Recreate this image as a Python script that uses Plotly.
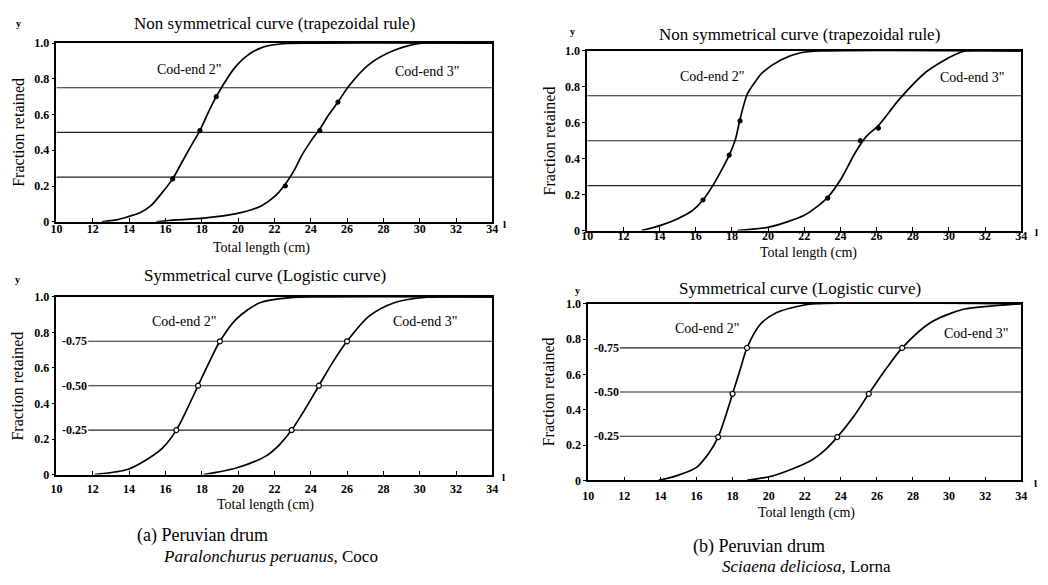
import plotly.graph_objects as go

W, H = 1048, 585
FONT = "Liberation Serif"

# ---------------- data ----------------
x_ticks = [10, 12, 14, 16, 18, 20, 22, 24, 26, 28, 30, 32, 34]
y_ticks = [0, 0.2, 0.4, 0.6, 0.8, 1.0]
y_ticktext = ["0", "0.2", "0.4", "0.6", "0.8", "1.0"]
ref_levels = [0.25, 0.5, 0.75]
ref_labels = ["0.25", "0.50", "0.75"]

# (a) non symmetrical
a_ns_c2_x = [12.5, 13.3, 14.0, 14.6, 15.2, 15.8, 16.4, 17.0, 17.5, 17.9, 18.4, 18.8, 19.2, 19.8, 20.5, 21.3, 22.3, 24.0, 34.0]
a_ns_c2_y = [0.0, 0.01, 0.03, 0.05, 0.09, 0.16, 0.24, 0.35, 0.44, 0.51, 0.62, 0.70, 0.77, 0.86, 0.93, 0.975, 0.995, 1.0, 1.0]
a_ns_c2_px = [16.4, 17.9, 18.8]
a_ns_c2_py = [0.24, 0.51, 0.70]
a_ns_c3_x = [15.5, 16.6, 18.1, 19.9, 21.3, 22.0, 22.6, 23.1, 23.5, 24.0, 24.5, 25.0, 25.5, 26.1, 27.2, 28.6, 30.1, 34.0]
a_ns_c3_y = [0.0, 0.01, 0.02, 0.045, 0.09, 0.14, 0.21, 0.29, 0.37, 0.45, 0.52, 0.60, 0.67, 0.76, 0.88, 0.96, 1.0, 1.0]
a_ns_c3_px = [22.6, 24.5, 25.5]
a_ns_c3_py = [0.20, 0.51, 0.67]

# (b) non symmetrical
b_ns_c2_x = [13.0, 14.1, 15.0, 15.8, 16.4, 17.0, 17.5, 17.85, 18.2, 18.45, 18.85, 19.3, 19.7, 20.7, 21.8, 23.0, 34.0]
b_ns_c2_y = [0.0, 0.03, 0.066, 0.11, 0.17, 0.26, 0.35, 0.42, 0.51, 0.62, 0.76, 0.83, 0.88, 0.95, 0.99, 1.0, 1.0]
b_ns_c2_px = [16.4, 17.85, 18.45]
b_ns_c2_py = [0.17, 0.42, 0.61]
b_ns_c3_x = [18.3, 20.1, 22.0, 22.8, 23.3, 24.05, 24.8, 25.4, 26.15, 27.25, 28.7, 29.6, 30.35, 30.9, 34.0]
b_ns_c3_y = [0.0, 0.02, 0.085, 0.14, 0.185, 0.29, 0.43, 0.52, 0.59, 0.73, 0.88, 0.94, 0.98, 1.0, 1.0]
b_ns_c3_px = [23.3, 25.1, 26.1]
b_ns_c3_py = [0.18, 0.50, 0.57]

# (a) logistic
a_lg_c2_x = [12.1, 13.95, 15.0, 15.85, 16.6, 17.2, 17.8, 18.4, 19.0, 19.9, 21.2, 22.8, 24.5, 34.0]
a_lg_c2_y = [0.0, 0.03, 0.086, 0.15, 0.25, 0.37, 0.50, 0.63, 0.75, 0.875, 0.967, 0.995, 1.0, 1.0]
a_lg_c2_px = [16.6, 17.8, 19.0]
a_lg_c3_x = [18.1, 19.9, 21.55, 22.3, 22.95, 23.7, 24.45, 25.2, 26.0, 27.2, 28.6, 30.4, 34.0]
a_lg_c3_y = [0.0, 0.037, 0.105, 0.17, 0.25, 0.37, 0.50, 0.63, 0.75, 0.89, 0.967, 0.998, 1.0]
a_lg_c3_px = [22.95, 24.45, 26.0]

# (b) logistic
b_lg_c2_x = [13.9, 15.0, 16.0, 16.7, 17.2, 17.6, 18.0, 18.4, 18.8, 19.55, 20.45, 21.7, 22.6, 34.0]
b_lg_c2_y = [0.0, 0.03, 0.074, 0.157, 0.245, 0.36, 0.49, 0.62, 0.75, 0.885, 0.95, 0.987, 1.0, 1.0]
b_lg_c2_px = [17.2, 18.0, 18.8]
b_lg_c3_x = [18.8, 20.3, 22.3, 23.1, 23.8, 24.7, 25.55, 26.5, 27.4, 29.0, 30.85, 32.7, 34.0]
b_lg_c3_y = [0.0, 0.028, 0.11, 0.17, 0.245, 0.36, 0.49, 0.63, 0.75, 0.895, 0.97, 0.99, 1.0]
b_lg_c3_px = [23.8, 25.55, 27.4]
b_lg_py = [0.245, 0.49, 0.75]

# ---------------- layout helpers ----------------
def fx(px):
    return px / W

def fy(py):
    return 1 - py / H

# panel boxes in pixels: (left, right, top, bottom, tick-label standoff)
boxes = {
    1: (51, 492, 37, 220, -5),
    2: (588, 1027, 45, 229, -7),
    3: (51, 492, 297, 479, 2),
    4: (589, 1027, 304, 485, 3),
}

fig = go.Figure()
line_style = dict(color="black", width=1.7, shape="spline", smoothing=0.8)

def add_curve(n, xs, ys):
    fig.add_trace(go.Scatter(x=xs, y=ys, mode="lines", line=line_style,
                             xaxis=f"x{n}", yaxis=f"y{n}", showlegend=False, hoverinfo="skip"))

def add_pts(n, xs, ys, open_=False):
    fig.add_trace(go.Scatter(x=xs, y=ys, mode="markers",
                             marker=dict(size=4 if not open_ else 5,
                                         color="white" if open_ else "black",
                                         symbol="circle",
                                         line=dict(color="black", width=1.2)),
                             xaxis=f"x{n}", yaxis=f"y{n}", showlegend=False, hoverinfo="skip"))

add_curve(1, a_ns_c2_x, a_ns_c2_y); add_pts(1, a_ns_c2_px, a_ns_c2_py)
add_curve(1, a_ns_c3_x, a_ns_c3_y); add_pts(1, a_ns_c3_px, a_ns_c3_py)
add_curve(2, b_ns_c2_x, b_ns_c2_y); add_pts(2, b_ns_c2_px, b_ns_c2_py)
add_curve(2, b_ns_c3_x, b_ns_c3_y); add_pts(2, b_ns_c3_px, b_ns_c3_py)
add_curve(3, a_lg_c2_x, a_lg_c2_y); add_pts(3, a_lg_c2_px, ref_levels, True)
add_curve(3, a_lg_c3_x, a_lg_c3_y); add_pts(3, a_lg_c3_px, ref_levels, True)
add_curve(4, b_lg_c2_x, b_lg_c2_y); add_pts(4, b_lg_c2_px, b_lg_py, True)
add_curve(4, b_lg_c3_x, b_lg_c3_y); add_pts(4, b_lg_c3_px, b_lg_py, True)

layout = dict(
    width=W, height=H, margin=dict(l=0, r=0, t=0, b=0),
    paper_bgcolor="white", plot_bgcolor="white",
    font=dict(family=FONT, color="black"),
    showlegend=False,
)
for n, (l, r, t, b, so) in boxes.items():
    sfx = "" if n == 1 else str(n)
    layout["xaxis" + sfx] = dict(
        domain=[fx(l), fx(r)], range=[10, 34], anchor="y" + sfx,
        tickvals=x_ticks, ticks="inside", ticklen=4, tickwidth=1.2, tickcolor="black",
        showgrid=False, zeroline=False, showline=True, linecolor="black", linewidth=1.6,
        mirror=True, tickfont=dict(family=FONT, size=12, color="black", weight="bold"),
        ticklabelstandoff=so,
    )
    layout["yaxis" + sfx] = dict(
        domain=[fy(b), fy(t)], range=[0, 1], anchor="x" + sfx,
        tickvals=y_ticks, ticktext=y_ticktext, ticks="outside", ticklen=3, tickwidth=1.2,
        tickcolor="black", showgrid=False, zeroline=False, showline=True,
        linecolor="black", linewidth=1.6, mirror=True,
        tickfont=dict(family=FONT, size=12, color="black", weight="bold"),
    )
fig.update_layout(**layout)

shapes = []
annotations = []
for n in (1, 2):
    xr = "x" if n == 1 else f"x{n}"
    yr = "y" if n == 1 else f"y{n}"
    for lv in ref_levels:
        shapes.append(dict(type="line", xref=xr, yref=yr, x0=10, x1=34, y0=lv, y1=lv,
                           line=dict(color="#222", width=1.1), layer="below"))
for n in (3, 4):
    xr, yr = f"x{n}", f"y{n}"
    for lv, lab in zip(ref_levels, ref_labels):
        shapes.append(dict(type="line", xref=xr, yref=yr, x0=11.75, x1=34, y0=lv, y1=lv,
                           line=dict(color="#222", width=1.1), layer="below"))
        annotations.append(dict(x=10.2, y=lv, xref=xr, yref=yr, text="-" + lab, showarrow=False,
                                xanchor="left", yanchor="middle",
                                font=dict(family=FONT, size=12, color="black", weight="bold")))

# Cod-end labels
lab_pos = {
    1: [(17.3, 0.855), (30.4, 0.84)],
    2: [(16.9, 0.86), (31.3, 0.85)],
    3: [(17.0, 0.86), (30.3, 0.86)],
    4: [(16.6, 0.86), (31.5, 0.83)],
}
for n, pos in lab_pos.items():
    xr = "x" if n == 1 else f"x{n}"
    yr = "y" if n == 1 else f"y{n}"
    for (xx, yy), t in zip(pos, ['Cod-end 2"', 'Cod-end 3"']):
        annotations.append(dict(x=xx, y=yy, xref=xr, yref=yr, text=t, showarrow=False,
                                xanchor="center", yanchor="middle",
                                font=dict(family=FONT, size=14, color="black")))

def pann(px, py, text, size, **kw):
    d = dict(x=fx(px), y=fy(py), xref="paper", yref="paper", text=text, showarrow=False,
             xanchor="center", yanchor="middle",
             font=dict(family=FONT, size=size, color="black"))
    d.update(kw)
    annotations.append(d)

# titles
pann(272, 17, "Non symmetrical curve (trapezoidal rule)", 17)
pann(803, 28, "Non symmetrical curve (trapezoidal rule)", 17)
pann(262, 275, "Symmetrical curve (Logistic curve)", 17)
pann(803, 288, "Symmetrical curve (Logistic curve)", 17)
# x axis titles
pann(258, 247, "Total length (cm)", 14)
pann(812, 252, "Total length (cm)", 14)
pann(262, 510, "Total length (cm)", 14)
pann(810, 518, "Total length (cm)", 14)
# y axis titles
pann(13, 128, "Fraction retained", 16, textangle=-90)
pann(550, 137, "Fraction retained", 16, textangle=-90)
pann(12, 388, "Fraction retained", 16, textangle=-90)
pann(549, 394, "Fraction retained", 16, textangle=-90)
# small 'y' and 'l' marks
for (px, py) in [(13, 17), (573, 25), (12, 279), (578, 290)]:
    pann(px, py, "y", 10, font=dict(family=FONT, size=10, color="black", weight="bold"))
for (px, py) in [(504, 222), (1042, 231), (503, 482), (1041, 488)]:
    pann(px, py, "l", 11, font=dict(family=FONT, size=11, color="black", weight="bold"))
# captions
pann(130, 541, "(a) Peruvian drum", 18, xanchor="left")
pann(157, 563, "<i>Paralonchurus peruanus</i>, Coco", 17, xanchor="left")
pann(693, 553, "(b) Peruvian drum", 18, xanchor="left")
pann(722, 573, "<i>Sciaena deliciosa</i>, Lorna", 17, xanchor="left")

fig.update_layout(shapes=shapes, annotations=annotations)
fig.write_html("out.html")
